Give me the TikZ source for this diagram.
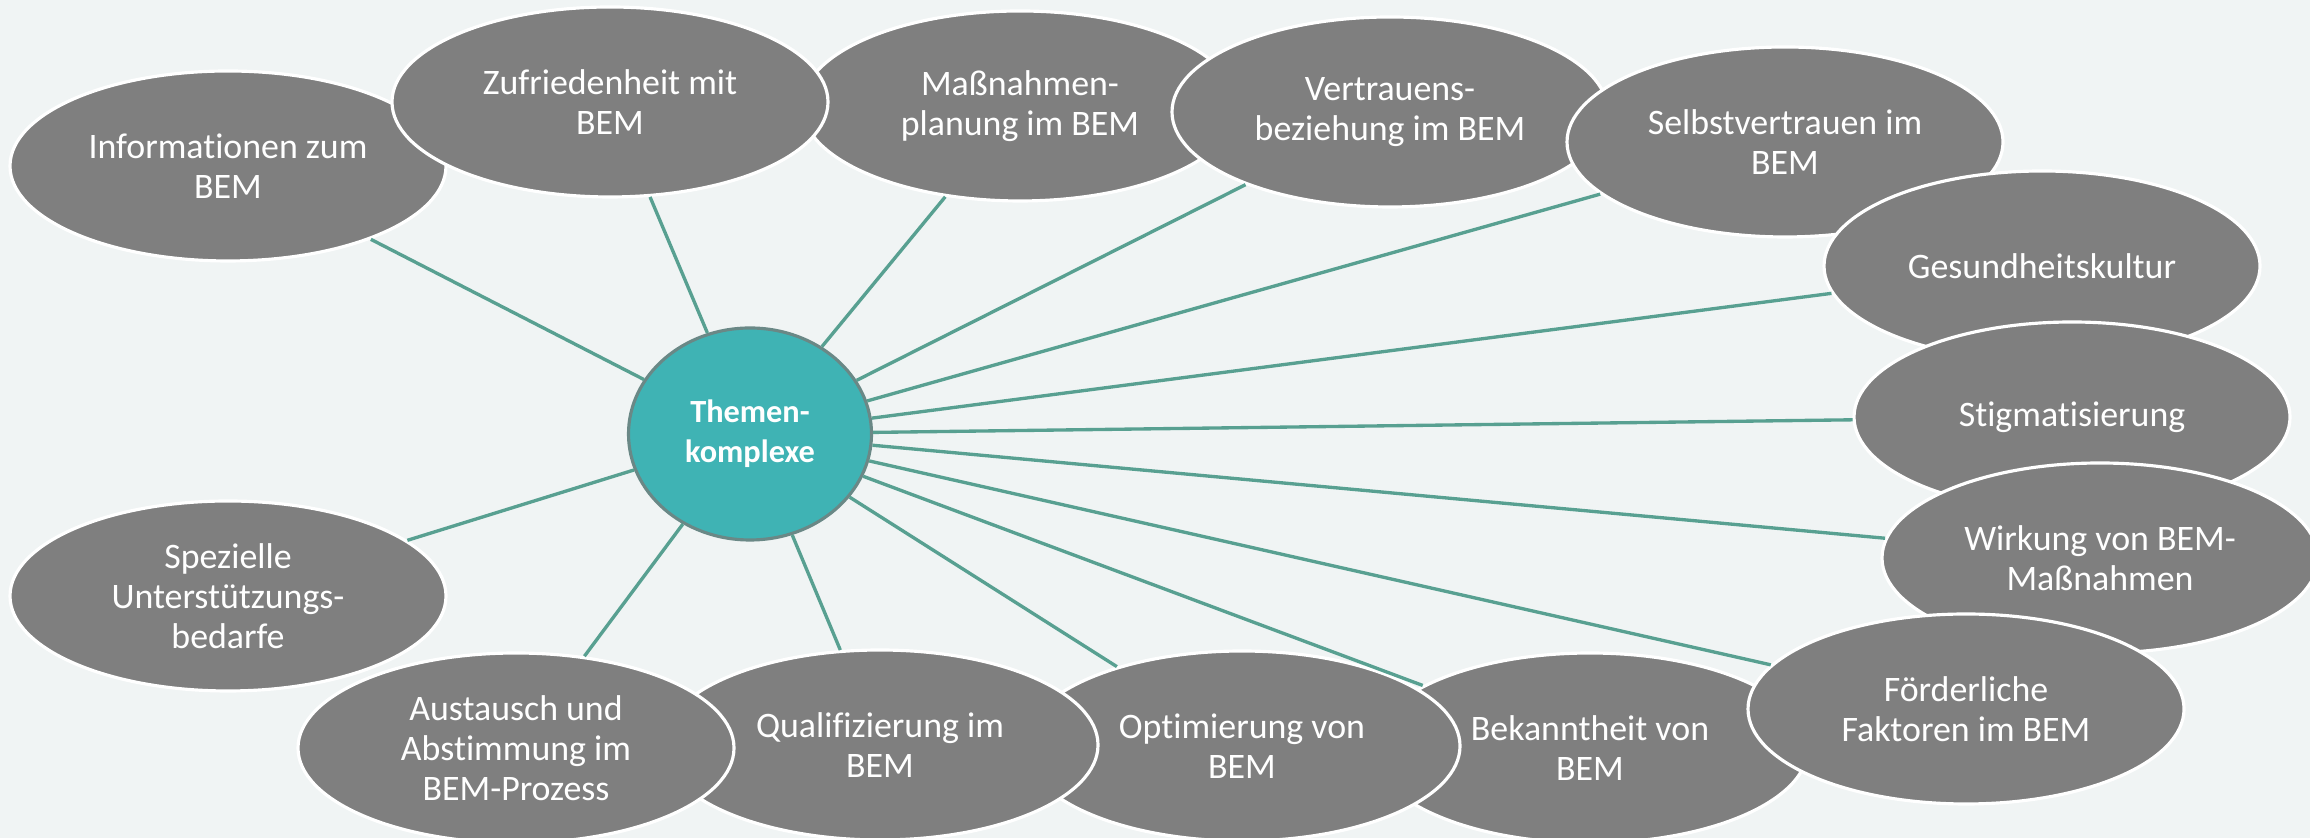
\documentclass[tikz,border=0pt]{standalone}
\usepackage{fontspec}
\setmainfont{Carlito}[Ligatures=NoCommon]
\usepackage{xcolor}
\usepackage{tikz}
\usetikzlibrary{shapes.geometric}
\definecolor{PaperGrey}{HTML}{F0F4F4}
\definecolor{TopicGrey}{HTML}{7F7F7F}
\definecolor{HubTeal}{HTML}{3FB3B4}
\definecolor{HubRim}{HTML}{6A8886}
\definecolor{LinkGreen}{HTML}{58A091}
\tikzset{topic/.style={ellipse, fill=TopicGrey, draw=white, line width=0.9pt, minimum width=4.36cm, minimum height=1.9cm, inner sep=0pt, align=center, text=white, font=\fontsize{10.2}{11.4}\selectfont},
hub/.style={ellipse, fill=HubTeal, draw=HubRim, line width=0.9pt, minimum width=2.43cm, minimum height=2.12cm, inner sep=0pt, align=center, text=white, font=\fontsize{9.2}{11.4}\selectfont\bfseries},
link/.style={draw=LinkGreen, line width=0.95pt}}

\begin{document}
\begin{tikzpicture}

\clip (0,0) rectangle (23.1,8.38);
\fill[PaperGrey] (0,0) rectangle (23.1,8.38);

\node[hub] (hub) at (7.50,4.04) {Themen-\\komplexe};

\node[topic] (bekannt) at (15.90,0.90) {Bekanntheit von\\BEM};
\node[topic] (optim) at (12.42,0.92) {Optimierung von\\BEM};
\node[topic] (quali) at (8.80,0.93) {Qualifizierung im\\BEM};
\node[topic] (austausch) at (5.16,0.90) {Austausch und\\Abstimmung im\\BEM-Prozess};
\node[topic] (spezial) at (2.28,2.42) {Spezielle\\Unterstützungs-\\bedarfe};
\node[topic] (info) at (2.28,6.72) {Informationen zum\\BEM};
\node[topic] (massn) at (10.20,7.32) {Maßnahmen-\\planung im BEM};
\node[topic] (zufr) at (6.10,7.36) {Zufriedenheit mit\\BEM};
\node[topic] (vertr) at (13.90,7.26) {Vertrauens-\\beziehung im BEM};
\node[topic] (selbst) at (17.85,6.96) {Selbstvertrauen im\\BEM};
\node[topic] (gesund) at (20.42,5.72) {Gesundheitskultur};
\node[topic] (stigma) at (20.72,4.21) {Stigmatisierung};
\node[topic] (wirkung) at (21.00,2.80) {Wirkung von BEM-\\Maßnahmen};
\node[topic] (foerd) at (19.66,1.29) {Förderliche\\Faktoren im BEM};

\draw[link] (hub) -- (info);
\draw[link] (hub) -- (zufr);
\draw[link] (hub) -- (massn);
\draw[link] (hub) -- (vertr);
\draw[link] (hub) -- (selbst);
\draw[link] (hub) -- (gesund);
\draw[link] (hub) -- (stigma);
\draw[link] (hub) -- (wirkung);
\draw[link] (hub) -- (foerd);
\draw[link] (hub) -- (bekannt);
\draw[link] (hub) -- (optim);
\draw[link] (hub) -- (quali);
\draw[link] (hub) -- (austausch);
\draw[link] (hub) -- (spezial);
\end{tikzpicture}
\end{document}
